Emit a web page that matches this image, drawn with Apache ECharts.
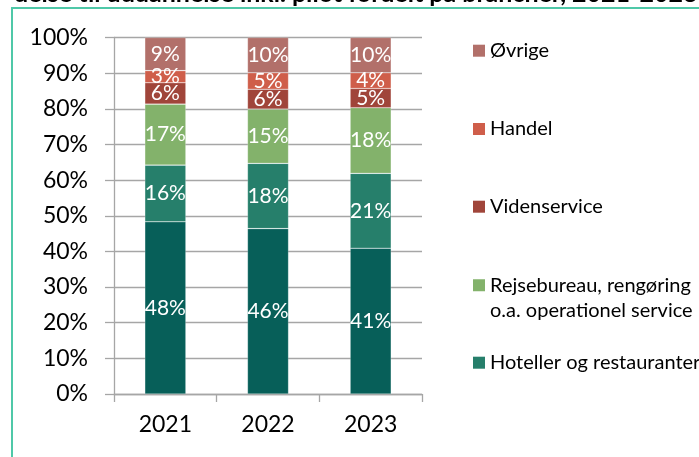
<!DOCTYPE html>
<html>
<head>
<meta charset="utf-8">
<script src="https://cdn.jsdelivr.net/npm/echarts@6/dist/echarts.min.js"></script>
<style>
  html, body { margin: 0; padding: 0; background: #fff; }
  #main { width: 699px; height: 457px; }
</style>
</head>
<body>
<div id="main"></div>
<script>
// andele pr. år, nederst -> øverst
var years = ['2021', '2022', '2023'];
var yTicks = [0, 10, 20, 30, 40, 50, 60, 70, 80, 90, 100];

var andenBranche = [48.3, 46.4, 40.9];
var hoteller = [15.9, 18.3, 21.0];
var rejsebureau = [17.1, 15.2, 18.4];
var videnservice = [6.0, 5.6, 5.4];
var handel = [3.4, 4.6, 4.4];
var oevrige = [9.3, 9.9, 9.9];

var font = 'Lato';
var rejseNavn = 'Rejsebureau, rengøring\no.a. operationel service';

var myChart = echarts.init(document.getElementById('main'));

function bar(name, data, color) {
    return {
        name: name,
        type: 'bar',
        stack: 'total',
        barWidth: '40%',
        data: data,
        itemStyle: {
            color: color,
            borderColor: 'rgba(255,255,255,0.35)',
            borderWidth: 0.6
        },
        label: {
            show: true,
            position: 'inside',
            color: '#fff',
            fontFamily: font,
            fontSize: 21,
            formatter: function (p) { return Math.round(p.value) + '%'; }
        },
        emphasis: { disabled: true }
    };
}

// en legende pr. post, så afstanden kan styres som i originalen
function legendItem(name, top, lineHeight, icon, iconH) {
    return {
        data: [name],
        orient: 'vertical',
        left: 468,
        top: top - 5,
        itemWidth: 12,
        itemHeight: iconH || 12,
        icon: icon || 'rect',
        itemStyle: { borderWidth: 0 },
        selectedMode: false,
        textStyle: {
            fontFamily: font,
            fontSize: 20,
            color: '#000',
            lineHeight: lineHeight
        }
    };
}

myChart.setOption({
    animation: false,
    graphic: [
        {
            type: 'text',
            left: 14,
            top: -19,
            style: {
                text: 'delse til uddannelse inkl. pilot fordelt på brancher, 2021-2023',
                font: 'bold 25px ' + font,
                fill: '#000'
            }
        },
        {
            type: 'rect',
            shape: { x: 12, y: 8, width: 800, height: 600 },
            style: { fill: 'none', stroke: '#4fc8a8', lineWidth: 2 }
        }
    ],
    grid: { left: 114, right: 277, top: 37.5, bottom: 63 },
    legend: [
        legendItem('Øvrige', 38.7, 24),
        legendItem('Handel', 117, 24),
        legendItem('Videnservice', 194.7, 24),
        legendItem(rejseNavn, 272.3, 25.5, 'path://M0,0H12V12H0Z M0,37H12', 37),
        legendItem('Hoteller og restauranter', 350.7, 24)
    ],
    xAxis: {
        type: 'category',
        data: years,
        axisLine: { lineStyle: { color: '#a6a6a6', width: 1.3 } },
        axisTick: { show: true, length: 8, lineStyle: { color: '#a6a6a6', width: 1.3 } },
        axisLabel: { color: '#000', fontFamily: font, fontSize: 23, margin: 19 }
    },
    yAxis: {
        type: 'value',
        min: yTicks[0],
        max: yTicks[yTicks.length - 1],
        interval: 10,
        axisLine: { show: true, lineStyle: { color: '#a6a6a6', width: 1.3 } },
        axisTick: { show: true, length: 9, lineStyle: { color: '#a6a6a6', width: 1.3 } },
        splitLine: { lineStyle: { color: '#a6a6a6', width: 1.3 } },
        axisLabel: {
            color: '#000', fontFamily: font, fontSize: 23, margin: 26,
            formatter: '{value}%'
        }
    },
    series: [
        bar('Anden branche', andenBranche, '#075f59'),
        bar('Hoteller og restauranter', hoteller, '#267f6b'),
        bar(rejseNavn, rejsebureau, '#83b26b'),
        bar('Videnservice', videnservice, '#a0453a'),
        bar('Handel', handel, '#cf5e4a'),
        bar('Øvrige', oevrige, '#b2706a')
    ]
});
</script>
</body>
</html>
